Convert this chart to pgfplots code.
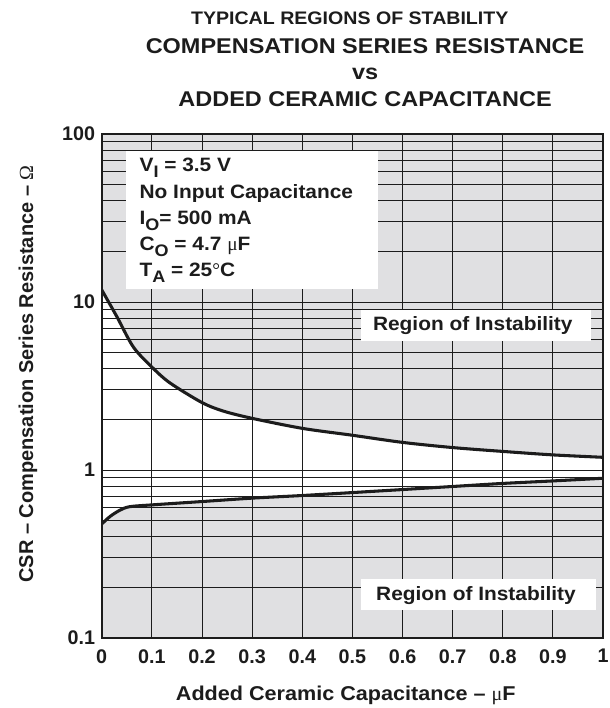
\documentclass[border=0pt]{standalone}
\usepackage{pgfplots}
\pgfplotsset{compat=1.18}
\usepgfplotslibrary{fillbetween}
\usepackage{fontspec}
\setmainfont{Liberation Sans}
\newfontfamily\symf{Liberation Serif}
\newfontfamily\wide{Liberation Sans}[FakeStretch=1.08]
\newfontfamily\widet{Liberation Sans}[FakeStretch=1.1]
\definecolor{shade}{RGB}{224,224,226}
\definecolor{ink}{RGB}{28,28,28}
\newcommand\sub[1]{\raisebox{-4.5pt}{\fontsize{12.5}{12}\selectfont #1}}
\begin{document}
\begin{tikzpicture}
\begin{axis}[name=ax, at={(0,0)}, anchor=south west,
  width=376pt, height=378pt, scale only axis,
  set layers,
  xmin=0, xmax=1, ymode=log, ymin=0.1, ymax=100,
  xtick={0,0.1,0.2,0.3,0.4,0.5,0.6,0.7,0.8,0.9,1},
  xticklabels={0,0.1,0.2,0.3,0.4,0.5,0.6,0.7,0.8,0.9,1},
  ytick={0.1,1,10,100}, yticklabels={0.1,1,10,100},
  xmajorgrids, ymajorgrids, yminorgrids,
  major grid style={ink, line width=0.7pt},
  minor grid style={ink, line width=0.7pt},
  axis line style={ink, line width=1.6pt},
  major tick length=0pt, minor tick length=0pt,
  ticklabel style={font=\fontsize{14.8}{16}\selectfont\bfseries, text=ink},
  xticklabel style={yshift=-5pt},
  yticklabel style={xshift=-1.5pt},
]
\addplot[name path=U, draw=none, forget plot, smooth] coordinates {
(0,11.8) (0.03,8.2) (0.063,5.4) (0.1,4.1) (0.136,3.3) (0.2,2.52) (0.243,2.24)
(0.3,2.03) (0.4,1.77) (0.5,1.61) (0.6,1.46) (0.7,1.36) (0.8,1.29) (0.9,1.23) (1.0,1.19)};
\addplot[name path=L, draw=none, forget plot, smooth] coordinates {
(0,0.477) (0.017,0.53) (0.037,0.578) (0.056,0.605) (0.1,0.62) (0.2,0.649) (0.3,0.68)
(0.4,0.705) (0.5,0.734) (0.6,0.765) (0.7,0.798) (0.8,0.832) (0.9,0.861) (1.0,0.893)};
\path[name path=T] (rel axis cs:0,1) -- (rel axis cs:1,1);
\path[name path=B] (rel axis cs:0,0) -- (rel axis cs:1,0);
\addplot[fill=shade, draw=none] fill between[of=U and T, on layer=axis background];
\addplot[fill=shade, draw=none] fill between[of=L and B, on layer=axis background];
\addplot[ink, line width=2.3pt, smooth] coordinates {
(0,11.8) (0.03,8.2) (0.063,5.4) (0.1,4.1) (0.136,3.3) (0.2,2.52) (0.243,2.24)
(0.3,2.03) (0.4,1.77) (0.5,1.61) (0.6,1.46) (0.7,1.36) (0.8,1.29) (0.9,1.23) (1.0,1.19)};
\addplot[ink, line width=2.3pt, smooth] coordinates {
(0,0.477) (0.017,0.53) (0.037,0.578) (0.056,0.605) (0.1,0.62) (0.2,0.649) (0.3,0.68)
(0.4,0.705) (0.5,0.734) (0.6,0.765) (0.7,0.798) (0.8,0.832) (0.9,0.861) (1.0,0.893)};
% white boxes
\fill[white] (rel axis cs:0.0485,0.6925) rectangle (rel axis cs:0.551,0.966);
\fill[white] (rel axis cs:0.517,0.589) rectangle (rel axis cs:0.976,0.651);
\fill[white] (rel axis cs:0.517,0.0556) rectangle (rel axis cs:0.986,0.117);
\begin{scope}[every node/.style={anchor=base west, inner sep=0pt, text=ink,
   font=\wide\fontsize{14.5}{16}\selectfont\bfseries}]
\node at (rel axis cs:0.075,0.925) {V\sub{I} = 3.5 V};
\node at (rel axis cs:0.075,0.872) {No Input Capacitance};
\node at (rel axis cs:0.075,0.8204) {I\sub{O}= 500 mA};
\node at (rel axis cs:0.075,0.7698) {C\sub{O} = 4.7 {\symf\mdseries μ}F};
\node at (rel axis cs:0.075,0.717) {T\sub{A} = 25{\symf\mdseries °}C};
\node at (rel axis cs:0.5406,0.6097) {Region of Instability};
\node at (rel axis cs:0.547,0.0754) {Region of Instability};
\end{scope}
\end{axis}
\begin{scope}[every node/.style={anchor=base, inner sep=0pt, text=ink}]
\node[font=\wide\fontsize{13.6}{15}\selectfont\bfseries] at ([xshift=-2pt,yshift=81.75pt]ax.north) {TYPICAL REGIONS OF STABILITY};
\node[font=\widet\fontsize{16}{17}\selectfont\bfseries] at ([xshift=9.5pt,yshift=60pt]ax.north) {COMPENSATION SERIES RESISTANCE};
\node[font=\widet\fontsize{16}{17}\selectfont\bfseries] at ([xshift=9.5pt,yshift=40.5pt]ax.north) {vs};
\node[font=\widet\fontsize{16}{17}\selectfont\bfseries] at ([xshift=9.5pt,yshift=20.25pt]ax.north) {ADDED CERAMIC CAPACITANCE};
\node[font=\wide\fontsize{15}{16}\selectfont\bfseries] at ([xshift=-5pt,yshift=-46.5pt]ax.south) {Added Ceramic Capacitance – {\symf\mdseries μ}F};
\node[rotate=90, font=\fontsize{15}{16}\selectfont\bfseries] at ([xshift=-51.5pt,yshift=9pt]ax.west) {CSR – Compensation Series Resistance – {\symf\mdseries Ω}};
\end{scope}
\pgfresetboundingbox
\path[use as bounding box] (-76.3pt,-52.5pt) rectangle (380.5pt,478.5pt);
\end{tikzpicture}
\end{document}
